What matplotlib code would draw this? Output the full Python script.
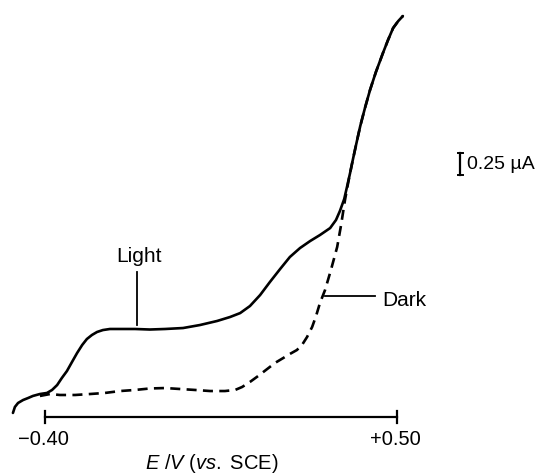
import matplotlib
matplotlib.use("Agg")
import matplotlib.pyplot as plt

plt.rcParams['font.family'] = ['Liberation Sans', 'DejaVu Sans']
plt.rcParams['mathtext.fontset'] = 'custom'
plt.rcParams['mathtext.rm'] = 'Liberation Sans'
plt.rcParams['mathtext.it'] = 'Liberation Sans:italic'

# ---- data (E in V vs SCE, current in microamps above baseline) ----
E_light = [-0.482, -0.477, -0.469, -0.456, -0.443, -0.431, -0.413, -0.395, -0.382,
           -0.369, -0.357, -0.344, -0.331, -0.318, -0.305, -0.293, -0.280, -0.267,
           -0.252, -0.234, -0.208, -0.170, -0.132, -0.093, -0.047, -0.004, 0.040,
           0.073, 0.099, 0.124, 0.150, 0.175, 0.201, 0.226, 0.252, 0.278, 0.303,
           0.329, 0.344, 0.354, 0.365, 0.372, 0.380, 0.388, 0.398, 0.406, 0.418,
           0.431, 0.446, 0.464, 0.477, 0.490, 0.503, 0.515]
I_light = [0.012, 0.080, 0.125, 0.159, 0.182, 0.205, 0.227, 0.239, 0.273,
           0.329, 0.409, 0.488, 0.591, 0.693, 0.784, 0.852, 0.898, 0.932,
           0.954, 0.966, 0.966, 0.966, 0.960, 0.966, 0.977, 1.011, 1.057,
           1.102, 1.147, 1.227, 1.352, 1.500, 1.647, 1.784, 1.886, 1.966, 2.034,
           2.113, 2.205, 2.307, 2.443, 2.579, 2.738, 2.909, 3.113, 3.272, 3.477,
           3.682, 3.886, 4.102, 4.250, 4.386, 4.465, 4.523]

E_dark = [-0.413, -0.387, -0.362, -0.323, -0.285, -0.247, -0.208, -0.170, -0.132,
          -0.093, -0.055, -0.016, 0.022, 0.060, 0.086, 0.104, 0.124, 0.145,
          0.168, 0.188, 0.209, 0.226, 0.244, 0.257, 0.270, 0.283, 0.293,
          0.303, 0.316, 0.331, 0.347, 0.357, 0.367, 0.375, 0.380, 0.388,
          0.398, 0.406, 0.418, 0.431, 0.446, 0.464, 0.477, 0.490, 0.503, 0.515]
I_dark = [0.205, 0.227, 0.216, 0.216, 0.227, 0.239, 0.261, 0.273, 0.290,
          0.295, 0.284, 0.273, 0.261, 0.261, 0.273, 0.307, 0.364, 0.432,
          0.511, 0.580, 0.636, 0.682, 0.727, 0.784, 0.875, 0.989, 1.114,
          1.261, 1.409, 1.636, 1.898, 2.148, 2.432, 2.625, 2.738, 2.909,
          3.113, 3.272, 3.477, 3.682, 3.886, 4.102, 4.250, 4.386, 4.465, 4.523]

axis_ticks = [-0.40, 0.50]
tick_labels = ['\u22120.40', '+0.50']
scale_value = 0.25  # microamps
scale_label = '0.25 \u00b5A'

# ---- figure ----
fig = plt.figure(figsize=(5.54, 4.74), dpi=100)
ax = fig.add_axes([0, 0, 1, 1])
ax.set_xlim(-0.5151, 0.9014)
ax.set_ylim(-0.682, 4.705)
ax.axis('off')

ax.plot(E_light, I_light, color='black', lw=1.9, solid_capstyle='round',
        solid_joinstyle='round')
ax.plot(E_dark, I_dark, color='black', lw=1.9, dashes=(3.8, 2.4))

# potential axis with end ticks
y_axis = -0.034
ax.plot(axis_ticks, [y_axis, y_axis], color='black', lw=1.6)
for xt, lab in zip(axis_ticks, tick_labels):
    ax.plot([xt, xt], [y_axis - 0.068, y_axis + 0.068], color='black', lw=1.6)
    ax.text(xt - 0.005, -0.352, lab, ha='center', va='baseline', fontsize=14.5)

ax.text(0.027, -0.625, r'$\mathit{E}$ /$\mathit{V}$ ($\mathit{vs.}$ SCE)',
        ha='center', va='baseline', fontsize=14.5)

# labels with leader lines
ax.plot([-0.165, -0.165], [1.011, 1.614], color='black', lw=1.3)
ax.text(-0.160, 1.727, 'Light', ha='center', va='baseline', fontsize=15)

ax.plot([0.316, 0.444], [1.341, 1.341], color='black', lw=1.3)
ax.text(0.462, 1.227, 'Dark', ha='left', va='baseline', fontsize=15)

# current scale bar
xb, yb = 0.661, 2.716
ax.plot([xb, xb], [yb, yb + scale_value], color='black', lw=1.6)
for yy in (yb, yb + scale_value):
    ax.plot([xb - 0.005, xb + 0.008], [yy, yy], color='black', lw=1.4)
ax.text(xb + 0.018, 2.78, scale_label, ha='left', va='baseline', fontsize=14)

fig.savefig('out.png', dpi=100)
